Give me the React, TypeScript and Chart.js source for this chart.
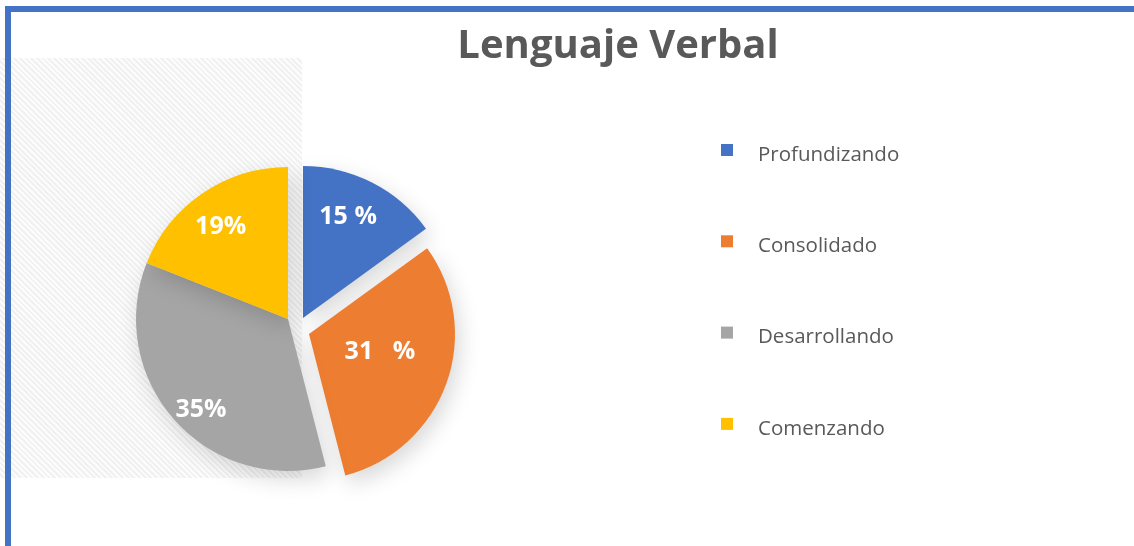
import React, { useEffect, useRef } from "react";
import { Chart, registerables } from "chart.js";

Chart.register(...registerables);

const titleText = "Lenguaje Verbal";
const categories = ["Profundizando", "Consolidado", "Desarrollando", "Comenzando"];
const percentages = [15, 31, 35, 19];
const sliceColors = ["#4472C4", "#ED7D31", "#A5A5A5", "#FFC000"];

// explosion (style): shift of each slice away from the pie centre, and slice radius
const explodeShift: [number, number][] = [[15, -1], [21, 15], [0, 0], [0, 0]];
const sliceRadius = [152, 146, 152, 152];
// label placement (style): fraction of radius, angular tweak in degrees
const labelRadius = [0.73, 0.5, 0.83, 0.75];
const labelTurn = [-3, -6, -5, -2];
const labelGap = [" ", "   ", "", ""];

const W = 1134;
const H = 546;

const extrasPlugin = {
  id: "extras",
  afterDatasetsUpdate(chart: any) {
    const meta = chart.getDatasetMeta(0);
    meta.data.forEach((arc: any, i: number) => {
      arc.x += explodeShift[i][0];
      arc.y += explodeShift[i][1];
      arc.outerRadius = sliceRadius[i];
    });
  },
  beforeDatasetsDraw(chart: any) {
    const ctx = chart.ctx;
    ctx.save();
    ctx.shadowColor = "rgba(0,0,0,0.16)";
    ctx.shadowBlur = 22;
    ctx.shadowOffsetX = 4;
    ctx.shadowOffsetY = 8;
  },
  afterDatasetsDraw(chart: any) {
    const ctx = chart.ctx;
    ctx.restore();
    const meta = chart.getDatasetMeta(0);
    ctx.save();
    ctx.fillStyle = "#FFFFFF";
    ctx.font = "bold 25px 'Open Sans'";
    ctx.textAlign = "center";
    ctx.textBaseline = "middle";
    meta.data.forEach((arc: any, i: number) => {
      const p = arc.getProps(["x", "y", "startAngle", "endAngle", "outerRadius"], true);
      const mid = (p.startAngle + p.endAngle) / 2 + (labelTurn[i] * Math.PI) / 180;
      const r = p.outerRadius * labelRadius[i];
      ctx.fillText(`${percentages[i]}${labelGap[i]}%`, p.x + Math.cos(mid) * r, p.y + Math.sin(mid) * r);
    });
    ctx.restore();
  },
  afterDraw(chart: any) {
    const ctx = chart.ctx;
    ctx.save();
    // title
    ctx.fillStyle = "#595959";
    ctx.font = "bold 40px 'Open Sans'";
    ctx.textAlign = "center";
    ctx.textBaseline = "alphabetic";
    ctx.fillText(titleText, 618, 58);
    // legend
    const colors = chart.data.datasets[0].backgroundColor as string[];
    ctx.font = "20.5px 'Open Sans'";
    ctx.textAlign = "left";
    ctx.textBaseline = "middle";
    (chart.data.labels as string[]).forEach((lab, i) => {
      const yc = 150 + i * 91.3;
      ctx.fillStyle = colors[i];
      ctx.fillRect(721, yc - 6, 12, 12);
      ctx.fillStyle = "#595959";
      ctx.fillText(lab, 758, yc + 5);
    });
    ctx.restore();
  },
};

export default function App() {
  const ref = useRef<HTMLCanvasElement>(null);
  useEffect(() => {
    if (!ref.current) return;
    const chart = new Chart(ref.current, {
      type: "pie",
      data: {
        labels: categories,
        datasets: [
          {
            data: percentages,
            backgroundColor: sliceColors,
            borderWidth: 0,
          },
        ],
      },
      options: {
        responsive: false,
        animation: false,
        radius: 152,
        layout: { padding: { left: 88, right: W - 488, top: 119, bottom: H - 519 } },
        plugins: {
          legend: { display: false },
          title: { display: false },
          tooltip: { enabled: false },
        },
      } as any,
      plugins: [extrasPlugin],
    });
    return () => chart.destroy();
  }, []);

  return (
    <div style={{ position: "absolute", left: 0, top: 0, width: W, height: H, background: "#fff", overflow: "hidden" }}>
      <div
        style={{
          position: "absolute",
          left: 0,
          top: 58,
          width: 302,
          height: 420,
          background: "repeating-linear-gradient(45deg, #fcfcfc 0px, #fcfcfc 2px, #f1f1f1 2px, #f1f1f1 4px)",
        }}
      />
      <div style={{ position: "absolute", left: 5, top: 6, width: W - 5, height: 6, background: "#4472C4" }} />
      <div style={{ position: "absolute", left: 5, top: 6, width: 6, height: H - 6, background: "#4472C4" }} />
      <canvas ref={ref} width={W} height={H} style={{ position: "absolute", left: 0, top: 0, width: W, height: H }} />
    </div>
  );
}
